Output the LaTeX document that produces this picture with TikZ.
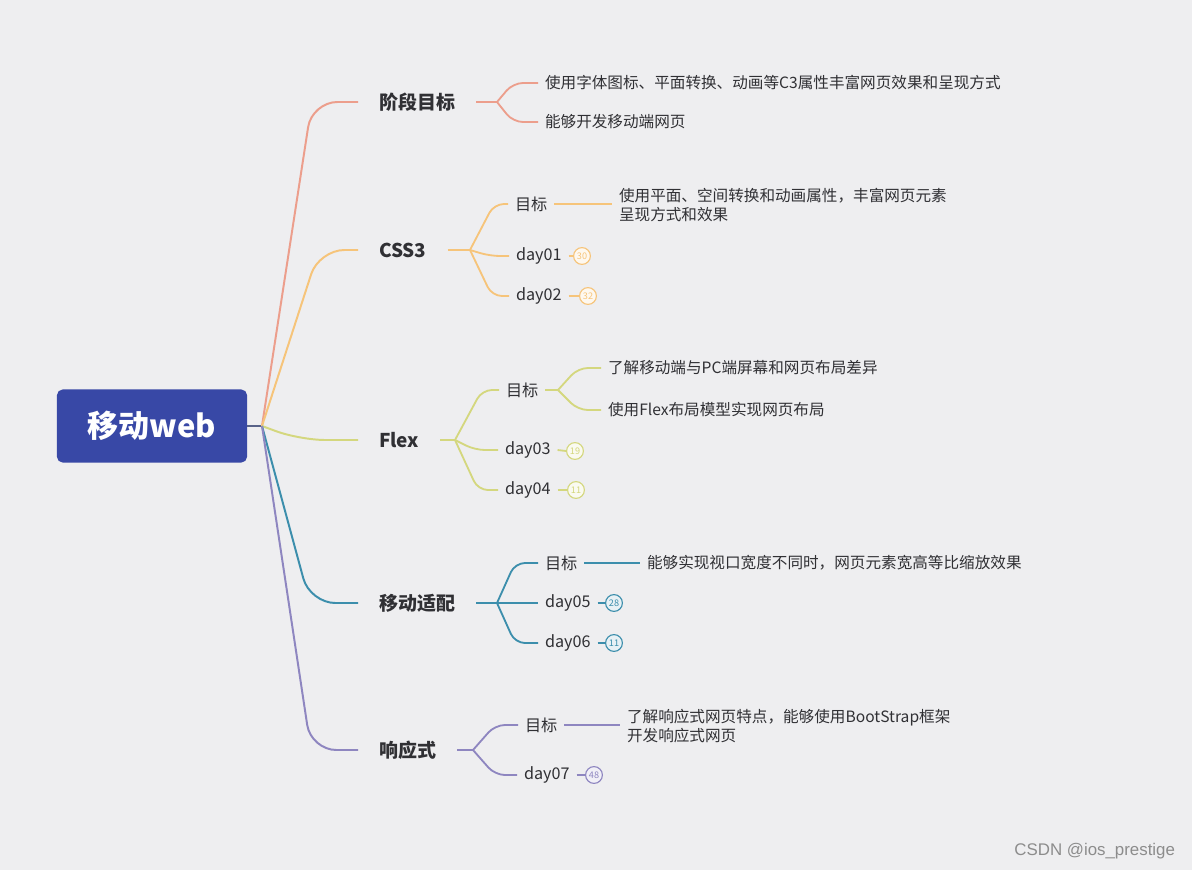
\documentclass[tikz,border=0pt]{standalone}
\usepackage{fontspec}
\usepackage{xcolor}
\usepackage{tikz}
\newfontfamily\cjk{Noto Sans CJK SC}
\newfontfamily\wmfont{Liberation Sans}
\definecolor{bgcol}{RGB}{238,238,240}
\definecolor{inkcol}{RGB}{48,48,52}
\definecolor{rootcol}{RGB}{56,72,166}
\definecolor{stubcol}{RGB}{88,98,136}
\definecolor{pinkcol}{RGB}{236,158,140}
\definecolor{orangecol}{RGB}{246,196,122}
\definecolor{limecol}{RGB}{212,215,126}
\definecolor{tealcol}{RGB}{60,142,172}
\definecolor{purplecol}{RGB}{142,134,192}

\begin{document}
\begin{tikzpicture}[x=0.025cm,y=-0.025cm,
  every node/.style={font=\cjk\fontsize{11.5}{14}\selectfont, text=inkcol},
  rootbox/.style={fill=rootcol, rounded corners=4pt, minimum width=4.75cm, minimum height=1.825cm,
    text=white, font=\cjk\bfseries\fontsize{22}{25}\selectfont},
  topic/.style={anchor=west, inner sep=1pt, outer xsep=14pt, font=\cjk\bfseries\fontsize{13.5}{16}\selectfont},
  item/.style={anchor=west, inner sep=1pt, outer xsep=4pt},
  leaf/.style={anchor=west, inner sep=1pt, outer xsep=4pt, align=left, font=\cjk\fontsize{11.1}{14}\selectfont},
  badge/.style={circle, draw=#1, fill=#1!12, line width=0.8pt, minimum size=0.42cm, inner sep=0pt,
    text=#1, font=\cjk\fontsize{6.5}{7}\selectfont},
  br/.style={draw=#1, line width=1.4pt, rounded corners=18pt},
  tw/.style={draw=#1, line width=1.3pt, rounded corners=7pt}]
  \fill[bgcol] (0,0) rectangle (1192,870);
  \useasboundingbox (0,0) rectangle (1192,870);

  \node[rootbox] (root) at (152,426) {移动web};
  \coordinate (hub) at (262,426);
  \draw[stubcol, line width=1.4pt] (root.east) -- (hub);

  \node[topic] (goal) at (358,102) {阶段目标};
  \node[topic] (css) at (358,250) {CSS3};
  \node[topic] (flex) at (358,440) {Flex};
  \node[topic] (adapt) at (358,603) {移动适配};
  \node[topic] (resp) at (358,750) {响应式};

  \draw[br=pinkcol] (hub) -- (312,102) -- (goal.west);
  \draw[br=orangecol] (hub) -- (319,250) -- (css.west);
  \draw[br=limecol] (hub) -- (300,440) -- (flex.west);
  \draw[br=tealcol] (hub) -- (310,603) -- (adapt.west);
  \draw[br=purplecol] (hub) -- (311,750) -- (resp.west);

  % 阶段目标
  \coordinate (goalhub) at (497,102);
  \draw[tw=pinkcol] (goal.east) -- (goalhub);
  \node[leaf] (goal1) at (538,83) {使用字体图标、平面转换、动画等C3属性丰富网页效果和呈现方式};
  \node[leaf] (goal2) at (538,122) {能够开发移动端网页};
  \draw[tw=pinkcol] (goalhub) -- (513,83) -- (goal1.west);
  \draw[tw=pinkcol] (goalhub) -- (513,122) -- (goal2.west);

  % CSS3
  \coordinate (csshub) at (470,250);
  \draw[tw=orangecol] (css.east) -- (csshub);
  \node[item] (cssaim) at (508,204) {目标};
  \node[leaf] (cssaimtxt) at (612,205) {使用平面、空间转换和动画属性，丰富网页元素\\呈现方式和效果};
  \node[item] (day1) at (509,256) {day01};
  \node[item] (day2) at (509,296) {day02};
  \node[badge=orangecol] (n1) at (582,256) {30};
  \node[badge=orangecol] (n2) at (588,296) {32};
  \draw[tw=orangecol] (csshub) -- (494,204) -- (cssaim.west);
  \draw[tw=orangecol] (cssaim.east) -- (cssaim.east -| cssaimtxt.west);
  \draw[tw=orangecol] (csshub) -- (490,256) -- (day1.west);
  \draw[tw=orangecol] (csshub) -- (492,296) -- (day2.west);
  \draw[tw=orangecol] (day1.east) -- (n1.west);
  \draw[tw=orangecol] (day2.east) -- (n2.west);

  % Flex
  \coordinate (flexhub) at (455,440);
  \draw[tw=limecol] (flex.east) -- (flexhub);
  \node[item] (flexaim) at (499,390) {目标};
  \coordinate (aimhub) at (558,390);
  \node[leaf] (flexaim1) at (601,368) {了解移动端与PC端屏幕和网页布局差异};
  \node[leaf] (flexaim2) at (601,410) {使用Flex布局模型实现网页布局};
  \node[item] (day3) at (498,450) {day03};
  \node[item] (day4) at (498,490) {day04};
  \node[badge=limecol] (n3) at (575,451) {19};
  \node[badge=limecol] (n4) at (576,490) {11};
  \draw[tw=limecol] (flexhub) -- (482,390) -- (flexaim.west);
  \draw[tw=limecol] (flexaim.east) -- (aimhub);
  \draw[tw=limecol] (aimhub) -- (578,368) -- (flexaim1.west);
  \draw[tw=limecol] (aimhub) -- (578,410) -- (flexaim2.west);
  \draw[tw=limecol] (flexhub) -- (475,450) -- (day3.west);
  \draw[tw=limecol] (flexhub) -- (478,490) -- (day4.west);
  \draw[tw=limecol] (day3.east) -- (n3.west);
  \draw[tw=limecol] (day4.east) -- (n4.west);

  % 移动适配
  \coordinate (adapthub) at (497,603);
  \draw[tw=tealcol] (adapt.east) -- (adapthub);
  \node[item] (adaptaim) at (538,563) {目标};
  \node[leaf] (adaptaimtxt) at (640,563) {能够实现视口宽度不同时，网页元素宽高等比缩放效果};
  \node[item] (day5) at (538,603) {day05};
  \node[item] (day6) at (538,643) {day06};
  \node[badge=tealcol] (n5) at (614,603) {28};
  \node[badge=tealcol] (n6) at (614,643) {11};
  \draw[tw=tealcol] (adapthub) -- (515,563) -- (adaptaim.west);
  \draw[tw=tealcol] (adaptaim.east) -- (adaptaim.east -| adaptaimtxt.west);
  \draw[tw=tealcol] (adapthub) -- (day5.west);
  \draw[tw=tealcol] (adapthub) -- (515,643) -- (day6.west);
  \draw[tw=tealcol] (day5.east) -- (n5.west);
  \draw[tw=tealcol] (day6.east) -- (n6.west);

  % 响应式
  \coordinate (resphub) at (473,750);
  \draw[tw=purplecol] (resp.east) -- (resphub);
  \node[item] (respaim) at (518,725) {目标};
  \node[leaf] (respaimtxt) at (620,726) {了解响应式网页特点，能够使用BootStrap框架\\开发响应式网页};
  \node[item] (day7) at (517,775) {day07};
  \node[badge=purplecol] (n7) at (594,775) {48};
  \draw[tw=purplecol] (resphub) -- (495,725) -- (respaim.west);
  \draw[tw=purplecol] (respaim.east) -- (respaim.east -| respaimtxt.west);
  \draw[tw=purplecol] (resphub) -- (495,775) -- (day7.west);
  \draw[tw=purplecol] (day7.east) -- (n7.west);

  \node[anchor=east, font=\wmfont\fontsize{12}{14}\selectfont, text=black!45] (mark) at (1180,851) {CSDN @ios\_prestige};
\end{tikzpicture}
\end{document}
